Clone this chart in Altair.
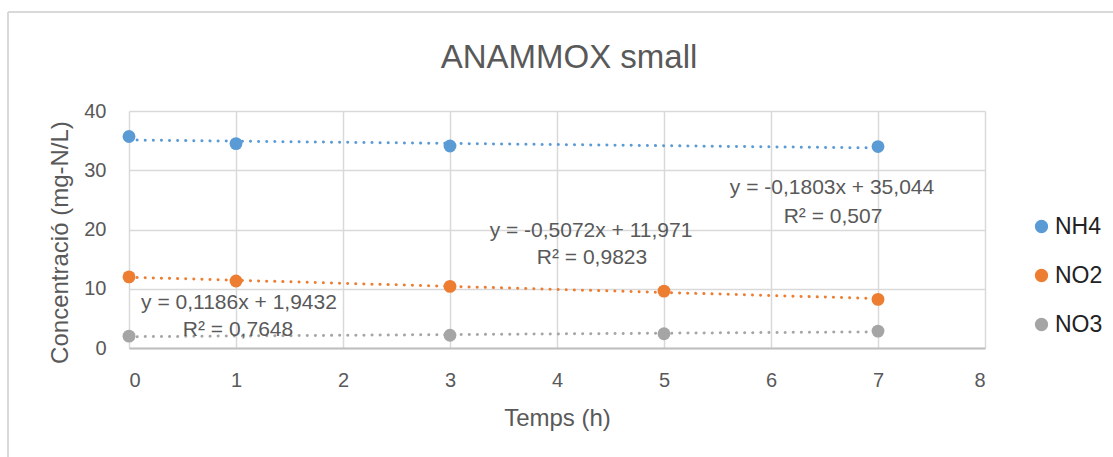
import altair as alt
import pandas as pd

# ---- data ----
series_names = ["NH4", "NO2", "NO3"]
series_colors = ["#5B9BD5", "#ED7D31", "#A5A5A5"]

time_nh4 = [0, 1, 3, 7]
nh4 = [35.7, 34.5, 34.1, 34.0]
time_no2 = [0, 1, 3, 5, 7]
no2 = [12.0, 11.3, 10.4, 9.6, 8.2]
time_no3 = [0, 3, 5, 7]
no3 = [2.0, 2.15, 2.4, 2.85]

x_ticks = [0, 1, 2, 3, 4, 5, 6, 7, 8]
y_ticks = [0, 10, 20, 30, 40]

eq_labels = [
    "y = 0,1186x + 1,9432", "R² = 0,7648",
    "y = -0,5072x + 11,971", "R² = 0,9823",
    "y = -0,1803x + 35,044", "R² = 0,507",
]

rows = []
for name, xs, ys in [("NH4", time_nh4, nh4), ("NO2", time_no2, no2), ("NO3", time_no3, no3)]:
    for x, y in zip(xs, ys):
        rows.append({"series": name, "t": x, "c": y})
df = pd.DataFrame(rows)

FONT = "Liberation Sans"
GREY = "#595959"
W, H = 856, 237

xscale = alt.Scale(domain=[0, 8], nice=False, zero=False)
yscale = alt.Scale(domain=[0, 40], nice=False)
cscale = alt.Scale(domain=series_names, range=series_colors)

base = alt.Chart(df)

trend = base.transform_regression(
    "t", "c", groupby=["series"], extent=[0, 7]
).mark_line(strokeWidth=3, strokeDash=[0.1, 8], strokeCap="round").encode(
    x=alt.X("t:Q", scale=xscale),
    y=alt.Y("c:Q", scale=yscale),
    color=alt.Color("series:N", scale=cscale),
)

points = base.mark_point(filled=True, size=165, opacity=1, shape="circle").encode(
    x=alt.X("t:Q", scale=xscale, title="Temps (h)",
            axis=alt.Axis(values=x_ticks, format="d", grid=True, ticks=False, labelPadding=22,
                          titleX=W / 2, titleY=77, titleBaseline="alphabetic",
                          domainColor="#BFBFBF", domainWidth=2)),
    y=alt.Y("c:Q", scale=yscale, title="Concentració (mg-N/L)",
            axis=alt.Axis(values=y_ticks, format="d", grid=True, ticks=False, domain=False,
                          labelPadding=23, titleAngle=-90, titleBaseline="alphabetic",
                          titleX=-62, titleY=131, titleAlign="center")),
    color=alt.Color("series:N", scale=cscale,
                    legend=alt.Legend(title=None, orient="none", legendX=901, legendY=104,
                                      symbolType="circle", symbolSize=177, labelFontSize=23,
                                      labelColor="#222222", labelFont=FONT, rowPadding=25,
                                      labelOffset=2, symbolStrokeWidth=0,
                                      symbolOpacity=1)),
)

# trendline equation labels (Excel-style annotations)
label_pos = [(110, 198), (109, 225), (462, 126), (463, 153), (703, 83), (704, 112)]
texts = []
for txt, (px, py) in zip(eq_labels, label_pos):
    texts.append(
        alt.Chart(pd.DataFrame({"label": [txt]})).mark_text(
            font=FONT, fontSize=21, color=GREY, align="center", baseline="alphabetic"
        ).encode(x=alt.value(px), y=alt.value(py), text="label:N")
    )

# outer chart-area frame (Excel chart border)
one = pd.DataFrame({"k": [0]})
frame_v = alt.Chart(one).mark_rule(color="#D9D9D9", strokeWidth=2, clip=False).encode(
    x=alt.value(-121), y=alt.value(-99), y2=alt.value(400))
frame_h = alt.Chart(one).mark_rule(color="#D9D9D9", strokeWidth=2, clip=False).encode(
    x=alt.value(-121), x2=alt.value(1000), y=alt.value(-99))

chart = alt.layer(frame_v, frame_h, trend, points, *texts).properties(
    width=W, height=H,
    background="white",
    autosize=alt.AutoSizeParams(type="none"),
    padding={"left": 129, "top": 111, "right": 128, "bottom": 109},
    title=alt.TitleParams("ANAMMOX small", anchor="middle", frame="group", dx=12,
                          fontSize=33, font=FONT, color=GREY, fontWeight="normal",
                          baseline="alphabetic", offset=-90),
).configure_axis(
    labelFont=FONT, labelFontSize=20, labelColor=GREY,
    titleFont=FONT, titleFontSize=24, titleColor=GREY, titleFontWeight="normal",
    gridColor="#D9D9D9", gridWidth=1.5,
).configure_view(stroke=None)

chart.save("out.html", embed_options={"renderer": "svg", "actions": False})
